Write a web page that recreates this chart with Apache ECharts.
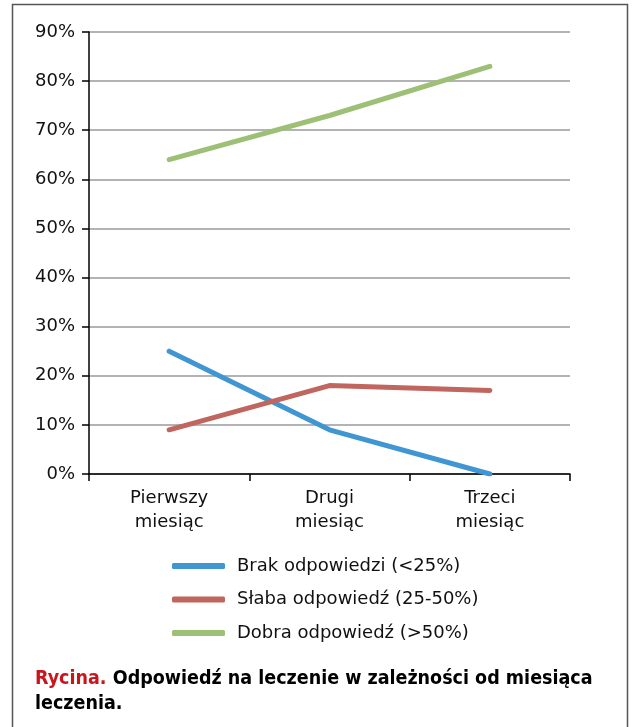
<!DOCTYPE html>
<html>
<head>
<meta charset="utf-8">
<script src="https://cdn.jsdelivr.net/npm/echarts@6/dist/echarts.min.js"></script>
<style>
  html, body { margin: 0; padding: 0; background: #fff; }
  #chart { width: 632px; height: 727px; }
</style>
</head>
<body>
<div id="chart"></div>
<script>
// Months of treatment
const months = ['Pierwszy\nmiesiąc', 'Drugi\nmiesiąc', 'Trzeci\nmiesiąc'];

// Share of patients (%) per response group
const brak = [25, 9, 0];    // Brak odpowiedzi (<25%)
const slaba = [9, 18, 17];  // Słaba odpowiedź (25-50%)
const dobra = [64, 73, 83]; // Dobra odpowiedź (>50%)

const seriesNames = ['Brak odpowiedzi (<25%)', 'Słaba odpowiedź (25-50%)', 'Dobra odpowiedź (>50%)'];
const seriesColors = ['#4096d2', '#c0665f', '#9dc076'];
const seriesData = [brak, slaba, dobra];

const FONT = 'DejaVu Sans';
const CAPTION_FONT = '"DejaVu Sans Condensed", "DejaVu Sans", sans-serif';

const chart = echarts.init(document.getElementById('chart'), null, { renderer: 'canvas' });

chart.setOption({
  animation: false,
  backgroundColor: '#fff',
  textStyle: { fontFamily: FONT },
  grid: { left: 89, top: 32, right: 62, bottom: 253, containLabel: false },
  xAxis: {
    type: 'category',
    data: months,
    boundaryGap: true,
    axisLine: { lineStyle: { color: '#000', width: 1.5 } },
    axisTick: { show: true, length: 7, lineStyle: { color: '#000', width: 1.5 } },
    axisLabel: { color: '#111', fontSize: 18, fontFamily: FONT, margin: 12, lineHeight: 24 },
    splitLine: { show: false }
  },
  yAxis: {
    type: 'value',
    min: 0, max: 90, interval: 10,
    axisLine: { show: true, lineStyle: { color: '#000', width: 1.5 } },
    axisTick: { show: true, length: 7, lineStyle: { color: '#000', width: 1.5 } },
    axisLabel: { color: '#111', fontSize: 18, fontFamily: FONT, margin: 14, formatter: '{value}%' },
    splitLine: { show: true, lineStyle: { color: '#9a9a9a', width: 1.5 } }
  },
  legend: {
    orient: 'vertical',
    left: 167, top: 551,
    itemWidth: 53, itemHeight: 6,
    itemGap: 13.5,
    icon: 'roundRect',
    data: seriesNames,
    textStyle: { fontSize: 18, fontFamily: FONT, color: '#111', padding: [0, 0, 0, 7], lineHeight: 20 }
  },
  title: {
    left: 30, top: 661,
    text: '{r|Rycina.} {b|Odpowiedź na leczenie w zależności od miesiąca}\n{b|leczenia.}',
    textStyle: {
      rich: {
        r: { color: '#c8161d', fontWeight: 'bold', fontSize: 19.5, fontFamily: CAPTION_FONT, lineHeight: 25 },
        b: { color: '#000', fontWeight: 'bold', fontSize: 19.5, fontFamily: CAPTION_FONT, lineHeight: 25 }
      }
    }
  },
  graphic: [{
    type: 'rect',
    shape: { x: 12.5, y: 4.5, width: 615, height: 740 },
    style: { fill: 'none', stroke: '#555', lineWidth: 1.5 },
    silent: true
  }],
  series: seriesNames.map((name, i) => ({
    name,
    type: 'line',
    data: seriesData[i],
    color: seriesColors[i],
    symbol: 'none',
    smooth: false,
    lineStyle: { width: 5, color: seriesColors[i], cap: 'round', join: 'round' }
  }))
});
</script>
</body>
</html>
